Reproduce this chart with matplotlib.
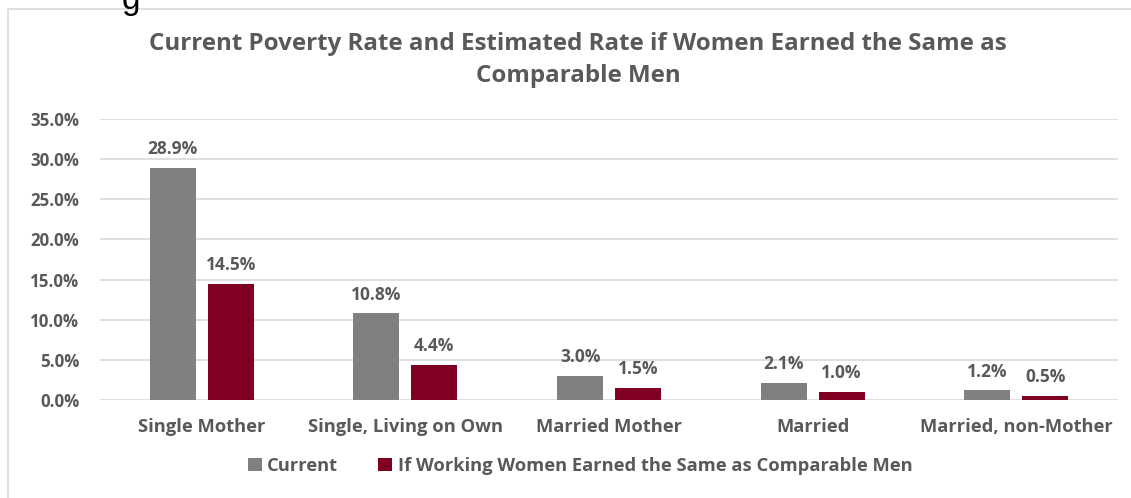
import numpy as np
import matplotlib.pyplot as plt
from matplotlib.patches import Rectangle

plt.rcParams['font.family'] = ['Open Sans', 'DejaVu Sans']

categories = ['Single Mother', 'Single, Living on Own', 'Married Mother', 'Married', 'Married, non-Mother']
current = [28.9, 10.8, 3.0, 2.1, 1.2]
equal_pay = [14.5, 4.4, 1.5, 1.0, 0.5]
yticks = [0, 5, 10, 15, 20, 25, 30, 35]

txt = '#595959'
gray = '#808080'
red = '#7f0022'

fig = plt.figure(figsize=(11.31, 4.98), dpi=100)
ax = fig.add_axes([100 / 1131, 1 - 400 / 498, 1018 / 1131, 281 / 498])

x = np.arange(len(categories))
w = 0.226
b1 = ax.bar(x - 0.142, current, w, color=gray, label='Current', zorder=3)
b2 = ax.bar(x + 0.142, equal_pay, w, color=red,
            label='If Working Women Earned the Same as Comparable Men', zorder=3)

for bars, vals in ((b1, current), (b2, equal_pay)):
    for r, v in zip(bars, vals):
        ax.annotate(f'{v:.1f}%', (r.get_x() + r.get_width() / 2, v),
                    xytext=(0, 7), textcoords='offset points', ha='center', va='bottom',
                    fontsize=12.5, fontweight='bold', color=txt)

ax.set_xlim(-0.5, len(categories) - 0.5)
ax.set_ylim(0, 35)
ax.set_yticks(yticks)
ax.set_yticklabels([f'{t:.1f}%' for t in yticks])
ax.set_xticks(x)
ax.set_xticklabels(categories)
ax.yaxis.grid(True, color='#d9d9d9', lw=1.2, zorder=0)
ax.tick_params(length=0, labelcolor=txt)
ax.tick_params(axis='y', pad=15, labelsize=12.2)
ax.tick_params(axis='x', pad=13, labelsize=13.2)
for lbl in ax.get_xticklabels() + ax.get_yticklabels():
    lbl.set_fontweight('bold')
for s in ax.spines.values():
    s.set_visible(False)

fig.text(578 / 1131, 1 - 44 / 498, 'Current Poverty Rate and Estimated Rate if Women Earned the Same as',
         ha='center', va='center', fontsize=17.4, fontweight='bold', color=txt)
fig.text(578 / 1131, 1 - 76 / 498, 'Comparable Men',
         ha='center', va='center', fontsize=17.4, fontweight='bold', color=txt)

fig.legend(loc='center', bbox_to_anchor=(580 / 1131, 1 - 466 / 498), ncol=2, frameon=False,
           prop={'size': 13.2, 'weight': 'bold'}, labelcolor=txt,
           handlelength=0.75, handleheight=0.75, handletextpad=0.3, columnspacing=2.2)

# outer chart border (cut off at right and bottom)
fig.patches.append(Rectangle((8 / 1131, -0.05), 1.1, 1 - 9 / 498 + 0.05, transform=fig.transFigure,
                             fill=False, edgecolor='#d9d9d9', lw=1.2))
# descender of text cropped above the chart
fig.text(131 / 1131, 1 - 1 / 498, 'g', ha='center', va='center', fontsize=24, color='black',
         family='Liberation Sans')

fig.savefig('out.png', dpi=100)
